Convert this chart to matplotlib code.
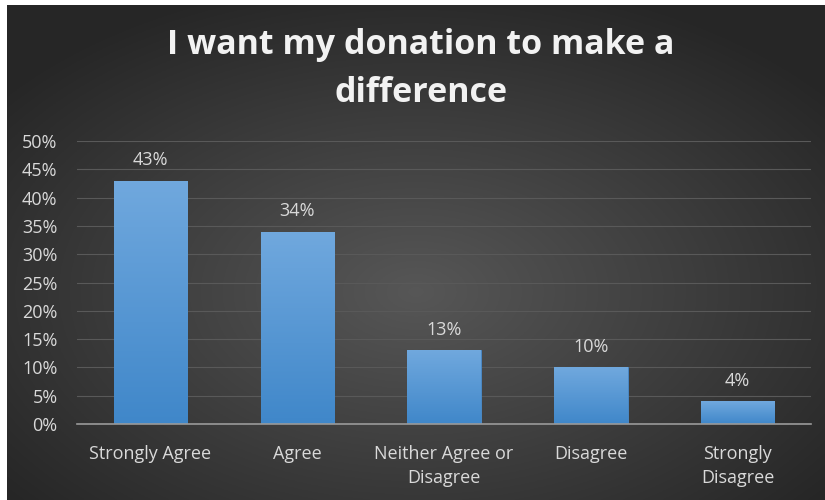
import numpy as np
import matplotlib.pyplot as plt
from matplotlib.ticker import PercentFormatter

categories = ["Strongly Agree", "Agree", "Neither Agree or\nDisagree", "Disagree", "Strongly\nDisagree"]
values = [43, 34, 13, 10, 4]
y_ticks = [0, 5, 10, 15, 20, 25, 30, 35, 40, 45, 50]
title = "I want my donation to make a\ndifference"

W, H = 825, 500
fig = plt.figure(figsize=(W / 100, H / 100), dpi=100)
fig.patch.set_facecolor("white")

# background: dark radial gradient, with thin white margin at left/top
bg = fig.add_axes([7 / W, 0, 1 - 7 / W, 1 - 5 / H])
bg.set_axis_off()
yy, xx = np.mgrid[0:1:300j, 0:1:500j]
r = np.sqrt(((xx - 0.5) / 0.75) ** 2 + ((yy - 0.42) / 0.75) ** 2)
shade = np.clip(0.34 - 0.22 * r, 0.15, 0.35)
bg.imshow(np.dstack([shade] * 3), aspect="auto", extent=[0, 1, 0, 1], origin="lower")

ax = fig.add_axes([77 / W, 1 - 424 / H, (811 - 77) / W, (424 - 141) / H])
ax.set_facecolor("none")
x = np.arange(len(categories))
bars = ax.bar(x, values, width=0.5, color="#5b9bd5", edgecolor="#4a8ccc", linewidth=0.6, zorder=2)

grad = np.linspace(0, 1, 100).reshape(-1, 1)
top = np.array([0.44, 0.66, 0.87])
bot = np.array([0.25, 0.53, 0.79])
img = bot + (top - bot) * grad[..., None] * np.ones((1, 1, 3))
for b in bars:
    im = ax.imshow(img, extent=[b.get_x(), b.get_x() + b.get_width(), 0, b.get_height()],
                   origin="lower", aspect="auto", zorder=3)
    im.set_clip_path(b)

for xi, v in zip(x, values):
    ax.text(xi, v + 2.0, f"{v}%", ha="center", va="bottom", color="#d9d9d9", fontsize=13,
            family="Open Sans")

ax.set_xlim(-0.5, len(categories) - 0.5)
ax.set_ylim(0, 50)
ax.set_yticks(y_ticks)
ax.yaxis.set_major_formatter(PercentFormatter(decimals=0))
ax.grid(axis="y", color="#595959", linewidth=0.8, zorder=0)
ax.set_axisbelow(True)
for s in ["top", "right", "left"]:
    ax.spines[s].set_visible(False)
ax.spines["bottom"].set_color("#9a9a9a")
ax.spines["bottom"].set_linewidth(1.2)
ax.spines["bottom"].set_zorder(4)
ax.tick_params(length=0, colors="#d9d9d9", labelsize=13)
ax.tick_params(axis="y", pad=14)
ax.tick_params(axis="x", pad=15)
ax.set_xticks(x)
ax.set_xticklabels(categories, family="Open Sans", linespacing=1.45)
for lab in ax.get_yticklabels():
    lab.set_family("Open Sans")

fig.text(421 / W, 1 - 69 / H, title, ha="center", va="center", color="#f2f2f2",
         fontsize=24.5, fontweight="bold", family="Open Sans", linespacing=1.5)

fig.savefig("out.png", dpi=100)
